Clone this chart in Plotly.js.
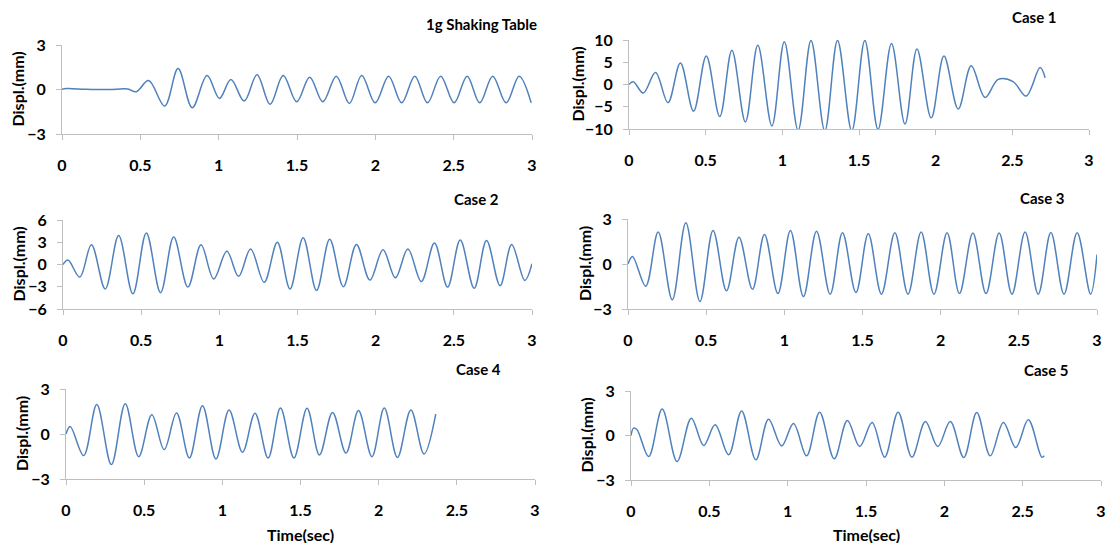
<!DOCTYPE html>
<html>
<head>
<meta charset="utf-8">
<script src="https://cdn.plot.ly/plotly-3.0.1.min.js"></script>
<style>html,body{margin:0;padding:0;background:#fff;}#chart{width:1110px;height:543px;}</style>
</head>
<body>
<div id="chart"></div>
<script>
// ---- Data (peaks/troughs, sec / mm) ----
const panelTitles = ["1g Shaking Table", "Case 1", "Case 2", "Case 3", "Case 4", "Case 5"];
const xTitle = "Time(sec)";
const yTitle = "Displ.(mm)";

const tTable = [0, 0.03, 0.15, 0.30, 0.42, 0.474, 0.553, 0.655, 0.741, 0.831, 0.926, 1.005, 1.078, 1.163, 1.245, 1.328, 1.412, 1.498, 1.581, 1.665, 1.751, 1.834, 1.913, 1.999, 2.085, 2.168, 2.252, 2.333, 2.417, 2.503, 2.586, 2.666, 2.749, 2.835, 2.918, 2.995];
const dTable = [0.02, 0.06, 0.02, 0.0, 0.03, -0.15, 0.6, -1.12, 1.41, -1.23, 0.94, -0.6, 0.67, -0.78, 1.0, -1.0, 0.94, -0.83, 0.83, -0.83, 0.9, -0.94, 0.94, -0.9, 0.9, -0.9, 0.9, -0.9, 0.9, -0.9, 0.9, -0.9, 0.9, -0.9, 0.9, -0.9];

const tCase1 = [0, 0.028, 0.093, 0.173, 0.254, 0.335, 0.421, 0.504, 0.592, 0.671, 0.759, 0.840, 0.932, 1.013, 1.103, 1.187, 1.277, 1.360, 1.453, 1.538, 1.624, 1.712, 1.800, 1.878, 1.971, 2.054, 2.147, 2.232, 2.322, 2.408, 2.505, 2.590, 2.681, 2.714];
const dCase1 = [0, 0.6, -1.9, 2.7, -4.1, 4.85, -6.0, 6.4, -7.2, 7.7, -8.4, 8.8, -9.3, 9.6, -10.3, 9.9, -10.4, 9.9, -10.4, 9.9, -10.1, 9.2, -8.9, 8.0, -7.5, 6.4, -5.5, 4.2, -2.9, 1.15, 0.65, -2.6, 3.8, 1.5];

const tCase2 = [0, 0.032, 0.107, 0.182, 0.270, 0.356, 0.447, 0.533, 0.624, 0.708, 0.799, 0.883, 0.964, 1.048, 1.123, 1.200, 1.287, 1.371, 1.452, 1.536, 1.622, 1.706, 1.793, 1.877, 1.963, 2.047, 2.126, 2.206, 2.292, 2.376, 2.460, 2.541, 2.630, 2.709, 2.796, 2.870, 2.954, 3.0];
const dCase2 = [0, 0.6, -1.7, 2.65, -3.3, 3.9, -3.95, 4.25, -3.8, 3.7, -3.05, 2.65, -1.95, 1.8, -1.6, 2.1, -2.4, 3.0, -3.3, 3.6, -3.5, 3.4, -3.0, 2.7, -2.1, 2.0, -1.8, 2.1, -2.3, 2.9, -3.05, 3.3, -3.2, 3.25, -2.85, 2.7, -2.15, 0.1];

const tCase3 = [0, 0.029, 0.113, 0.193, 0.283, 0.370, 0.460, 0.544, 0.630, 0.710, 0.796, 0.873, 0.959, 1.039, 1.122, 1.206, 1.293, 1.372, 1.458, 1.537, 1.621, 1.707, 1.791, 1.875, 1.957, 2.041, 2.120, 2.206, 2.290, 2.374, 2.456, 2.540, 2.624, 2.705, 2.789, 2.873, 2.959, 3.0];
const dCase3 = [0, 0.5, -1.48, 2.13, -2.39, 2.75, -2.5, 2.24, -1.79, 1.79, -1.68, 1.97, -1.97, 2.24, -2.17, 2.19, -2.01, 2.08, -1.9, 2.01, -2.01, 2.08, -2.01, 2.13, -2.01, 2.08, -1.97, 2.06, -1.97, 2.06, -2.01, 2.13, -2.01, 2.1, -2.01, 2.08, -2.01, 0.63];

const tCase4 = [0, 0.027, 0.113, 0.197, 0.290, 0.379, 0.465, 0.549, 0.628, 0.707, 0.789, 0.873, 0.959, 1.043, 1.129, 1.209, 1.293, 1.372, 1.458, 1.542, 1.621, 1.705, 1.791, 1.871, 1.957, 2.036, 2.120, 2.206, 2.290, 2.365];
const dCase4 = [0, 0.5, -1.44, 1.96, -2.04, 2.02, -1.51, 1.29, -1.04, 1.4, -1.6, 1.89, -1.67, 1.6, -1.22, 1.38, -1.6, 1.73, -1.6, 1.71, -1.4, 1.44, -1.27, 1.56, -1.51, 1.73, -1.56, 1.6, -1.33, 1.33];

const tCase5 = [0, 0.016, 0.038, 0.113, 0.199, 0.294, 0.385, 0.464, 0.537, 0.623, 0.706, 0.797, 0.878, 0.962, 1.037, 1.121, 1.204, 1.297, 1.381, 1.460, 1.539, 1.619, 1.705, 1.793, 1.879, 1.958, 2.038, 2.124, 2.207, 2.293, 2.377, 2.456, 2.536, 2.622, 2.638];
const dCase5 = [0, 0.5, 0.4, -1.42, 1.78, -1.75, 1.17, -0.67, 0.72, -1.3, 1.66, -1.64, 1.1, -0.7, 0.81, -1.37, 1.57, -1.57, 1.01, -0.74, 0.88, -1.46, 1.57, -1.46, 0.94, -0.74, 0.94, -1.48, 1.55, -1.37, 0.88, -0.81, 1.06, -1.46, -1.37];

const yRanges = [[-3, 3], [-10, 10], [-6, 6], [-3, 3], [-3, 3], [-3, 3]];
const yDticks = [3, 5, 3, 3, 3, 3];

const seriesT = [tTable, tCase1, tCase2, tCase3, tCase4, tCase5];
const seriesD = [dTable, dCase1, dCase2, dCase3, dCase4, dCase5];

// ---- Layout geometry (pixels on a 1110x543 page) ----
const W = 1110, H = 543;
const boxes = [
  {l: 62, r: 532, t: 45, b: 134},
  {l: 629, r: 1089, t: 40, b: 129},
  {l: 63, r: 532, t: 220, b: 309},
  {l: 628, r: 1097, t: 219, b: 309},
  {l: 66, r: 535, t: 389, b: 479},
  {l: 631, r: 1101, t: 391, b: 480}
];
const titlePos = [
  {x: 539, y: 24}, {x: 1058, y: 17}, {x: 501, y: 199},
  {x: 1066, y: 198}, {x: 503, y: 369}, {x: 1070, y: 370}
];
const yTitleX = [17, 577, 18, 584, 21, 586];

const FONT = "Lato, 'Open Sans', sans-serif";
const AXC = "#bfbfbf";
const traces = [];
const layout = {
  width: W, height: H,
  margin: {l: 0, r: 0, t: 0, b: 0},
  paper_bgcolor: "#ffffff", plot_bgcolor: "#ffffff",
  showlegend: false,
  font: {family: FONT, size: 16, color: "#000000", weight: "bold"},
  annotations: []
};

for (let i = 0; i < 6; i++) {
  const n = i === 0 ? "" : String(i + 1);
  const bx = boxes[i];
  traces.push({
    x: seriesT[i], y: seriesD[i],
    xaxis: "x" + n, yaxis: "y" + n,
    type: "scatter", mode: "lines",
    line: {color: "#4F81BD", width: 1.5, shape: "spline", smoothing: 1},
    hoverinfo: "skip"
  });
  layout["xaxis" + n] = {
    domain: [bx.l / W, bx.r / W],
    anchor: "y" + n,
    range: [0, 3], dtick: 0.5, tick0: 0,
    showgrid: false, zeroline: false,
    showline: true, linecolor: AXC, linewidth: 1,
    ticks: "outside", ticklen: 5, tickcolor: AXC, tickwidth: 1,
    ticklabelstandoff: 12,
    tickfont: {family: FONT, size: 16, color: "#000", weight: "bold"},
    fixedrange: true
  };
  layout["yaxis" + n] = {
    domain: [1 - bx.b / H, 1 - bx.t / H],
    anchor: "x" + n,
    range: yRanges[i], dtick: yDticks[i], tick0: 0,
    showgrid: false, zeroline: false,
    showline: true, linecolor: AXC, linewidth: 1,
    ticks: "outside", ticklen: 5, tickcolor: AXC, tickwidth: 1,
    ticklabelstandoff: 7,
    tickfont: {family: FONT, size: 16, color: "#000", weight: "bold"},
    fixedrange: true
  };
  layout.annotations.push({
    text: panelTitles[i], xref: "paper", yref: "paper",
    x: titlePos[i].x / W, y: 1 - titlePos[i].y / H,
    xanchor: "right", yanchor: "middle", showarrow: false,
    font: {family: FONT, size: 15, color: "#000", weight: "bold"}
  });
  layout.annotations.push({
    text: yTitle, xref: "paper", yref: "paper", textangle: -90,
    x: yTitleX[i] / W, y: 1 - ((bx.t + bx.b) / 2) / H,
    xanchor: "center", yanchor: "middle", showarrow: false,
    font: {family: FONT, size: 16, color: "#000", weight: "bold"}
  });
  if (i >= 4) {
    layout.annotations.push({
      text: xTitle, xref: "paper", yref: "paper",
      x: ((bx.l + bx.r) / 2) / W, y: 1 - 534 / H,
      xanchor: "center", yanchor: "middle", showarrow: false,
      font: {family: FONT, size: 16, color: "#000", weight: "bold"}
    });
  }
}

Plotly.newPlot("chart", traces, layout, {staticPlot: true, displayModeBar: false});
</script>
</body>
</html>
